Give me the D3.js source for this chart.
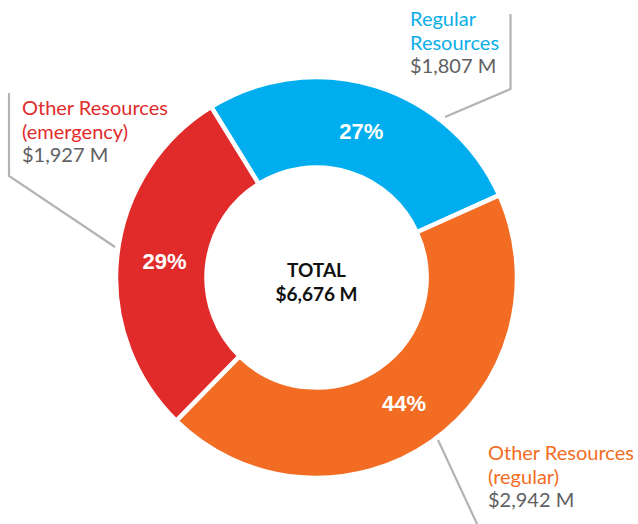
<!DOCTYPE html>
<html>
<head>
<meta charset="utf-8">
<script src="https://cdn.jsdelivr.net/npm/d3@7"></script>
<style>
  html, body { margin: 0; padding: 0; background: #fff; }
  svg { display: block; }
</style>
</head>
<body>
<svg id="chart" width="638" height="524"></svg>
<script>
// ---- data ----
const categories = ["Regular Resources", "Other Resources (regular)", "Other Resources (emergency)"];
const values = [1807, 2942, 1927];
const percentLabels = ["27%", "44%", "29%"];
const valueLabels = ["$1,807 M", "$2,942 M", "$1,927 M"];
const nameLines = [["Regular", "Resources"], ["Other Resources", "(regular)"], ["Other Resources", "(emergency)"]];
const totalTitle = "TOTAL";
const totalLabel = "$6,676 M";

// ---- styles / layout ----
const colors = ["#00AEEF", "#F26D23", "#E12B2B"];
const labelColors = ["#0AAEE8", "#F26D23", "#E12B2B"];
const cx = 316.5, cy = 277.5;
const outerR = 200.5, innerR = 110;
const startDeg = -31.7;
const labelLayout = [
  { x: 410, y: 26 },
  { x: 488, y: 460 },
  { x: 22, y: 115 }
];
const leaderLines = [
  [[510.5, 14], [510.5, 89], [445, 117]],
  [[438, 440], [478, 526]],
  [[9, 93], [9, 176], [115, 247]]
];

const svg = d3.select("#chart");
const g = svg.append("g").attr("transform", `translate(${cx},${cy})`);

const start = startDeg * Math.PI / 180;
const pie = d3.pie().sort(null).value(d => d).startAngle(start).endAngle(start + 2 * Math.PI);
const arcs = pie(values);
const arc = d3.arc().innerRadius(innerR).outerRadius(outerR);
const labelArc = d3.arc().innerRadius(153).outerRadius(153);

// leader lines (drawn under the ring)
const line = d3.line();
svg.append("g").selectAll("path")
  .data(leaderLines)
  .join("path")
  .attr("d", d => line(d))
  .attr("fill", "none")
  .attr("stroke", "#B3B3B3")
  .attr("stroke-width", 2.2);

g.selectAll("path.slice")
  .data(arcs)
  .join("path")
  .attr("class", "slice")
  .attr("d", arc)
  .attr("fill", (d, i) => colors[i])
  .attr("stroke", "#fff")
  .attr("stroke-width", 4.5)
  .attr("stroke-linejoin", "miter");

g.selectAll("text.pct")
  .data(arcs)
  .join("text")
  .attr("class", "pct")
  .attr("transform", d => {
    const [x, y] = labelArc.centroid(d);
    return `translate(${x},${y})`;
  })
  .attr("text-anchor", "middle")
  .attr("dy", "0.36em")
  .attr("fill", "#fff")
  .attr("font-family", "'Liberation Sans', Arial, sans-serif")
  .attr("font-weight", "bold")
  .attr("font-size", 22)
  .text((d, i) => percentLabels[i]);

// center total
const center = g.append("text")
  .attr("text-anchor", "middle")
  .attr("font-family", "Lato, 'Open Sans', sans-serif")
  .attr("font-weight", "bold")
  .attr("font-size", 19)
  .attr("fill", "#111");
center.append("tspan").attr("x", 0).attr("y", -1).text(totalTitle);
center.append("tspan").attr("x", 0).attr("y", 23).text(totalLabel);

// callout labels
categories.forEach((c, i) => {
  const L = labelLayout[i];
  const t = svg.append("text")
    .attr("font-family", "Lato, 'Open Sans', sans-serif")
    .attr("font-size", 20);
  nameLines[i].forEach((ln, k) => {
    t.append("tspan").attr("x", L.x).attr("y", L.y + k * 23.5)
      .attr("fill", labelColors[i]).text(ln);
  });
  t.append("tspan").attr("x", L.x).attr("y", L.y + nameLines[i].length * 23.5)
    .attr("fill", "#5F6062").text(valueLabels[i]);
});
</script>
</body>
</html>
